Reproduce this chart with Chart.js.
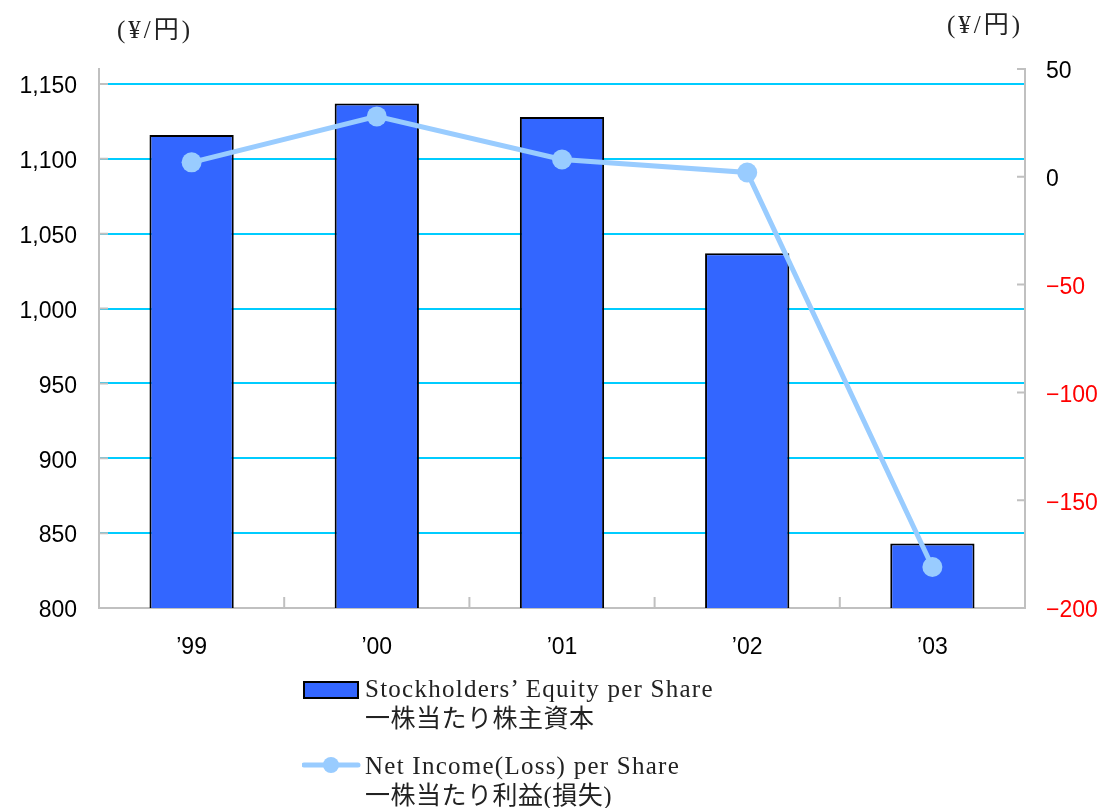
<!DOCTYPE html>
<html>
<head>
<meta charset="utf-8">
<script src="https://cdn.jsdelivr.net/npm/chart.js@4/dist/chart.umd.min.js"></script>
<style>
  body { margin: 0; background: #fff; }
  #wrap { position: relative; width: 1104px; height: 808px; }
  .unit { position: absolute; font-family: "Liberation Serif", "Noto Sans CJK JP", serif; font-size: 25px; letter-spacing: 3px; color: #222; }
  .legend { position: absolute; left: 302px; font-family: "Liberation Serif", "Noto Sans CJK JP", serif; font-size: 25px; line-height: 30px; color: #222; }
  .legend .txt { position: absolute; left: 63px; top: 0; white-space: nowrap; }
  .legend .en { letter-spacing: 1.25px; }
  .legend .jp { letter-spacing: 0.5px; }
</style>
</head>
<body>
<div id="wrap">
  <canvas id="myChart" width="1104" height="808"></canvas>
  <div class="unit" style="left:117px; top:9px;">(¥/円)</div>
  <div class="unit" style="left:947px; top:4px;">(¥/円)</div>
  <div class="legend" style="top:674px;">
    <canvas id="sw1" width="60" height="30" style="position:absolute;left:0;top:3px;"></canvas>
    <div class="txt"><span class="en">Stockholders’ Equity per Share</span><br><span class="jp">一株当たり株主資本</span></div>
  </div>
  <div class="legend" style="top:751px;">
    <canvas id="sw2" width="60" height="30" style="position:absolute;left:0;top:-1px;"></canvas>
    <div class="txt"><span class="en">Net Income(Loss) per Share</span><br><span class="jp">一株当たり利益(損失)</span></div>
  </div>
</div>
<script>
// 데이터
const years = ["’99", "’00", "’01", "’02", "’03"];
const equityPerShare = [1116, 1137, 1128, 1037, 843];
const incomePerShare = [6.7, 28, 8, 2, -181];

const BAR_BLUE = "#3366ff";
const LINE_BLUE = "#99ccff";
const GRID_CYAN = "#00ccff";
const AXIS_GRAY = "#c0c0c0";

// 안쪽으로 그려지는 눈금 표시
const tickMarks = {
  id: "tickMarks",
  afterDatasetsDraw(chart) {
    const { ctx, chartArea, scales } = chart;
    ctx.save();
    ctx.strokeStyle = AXIS_GRAY;
    ctx.lineWidth = 2;
    ctx.beginPath();
    scales.y.ticks.forEach((t) => {
      const y = scales.y.getPixelForValue(t.value);
      ctx.moveTo(chartArea.left, y);
      ctx.lineTo(chartArea.left + 9, y);
    });
    scales.y1.ticks.forEach((t) => {
      const y = scales.y1.getPixelForValue(t.value);
      ctx.moveTo(chartArea.right - 8, y);
      ctx.lineTo(chartArea.right, y);
    });
    for (let i = 1; i < years.length; i++) {
      const x = (scales.x.getPixelForValue(i - 1) + scales.x.getPixelForValue(i)) / 2;
      ctx.moveTo(x, chartArea.bottom);
      ctx.lineTo(x, chartArea.bottom - 11);
    }
    ctx.stroke();
    ctx.restore();
  },
};

const tickFont = { family: "'Liberation Sans', Arial, sans-serif", size: 23 };

const ctx = document.getElementById("myChart").getContext("2d");
const myChart = new Chart(ctx, {
  type: "bar",
  data: {
    labels: years,
    datasets: [
      {
        type: "line",
        label: "Net Income(Loss) per Share",
        data: incomePerShare,
        yAxisID: "y1",
        borderColor: LINE_BLUE,
        backgroundColor: LINE_BLUE,
        borderWidth: 5,
        pointRadius: 10,
        pointBorderWidth: 0,
        pointBackgroundColor: LINE_BLUE,
        order: 0,
      },
      {
        type: "bar",
        label: "Stockholders’ Equity per Share",
        data: equityPerShare,
        yAxisID: "y",
        backgroundColor: BAR_BLUE,
        borderColor: "#000",
        borderWidth: 2,
        barPercentage: 0.455,
        categoryPercentage: 1,
        order: 1,
      },
    ],
  },
  options: {
    responsive: false,
    animation: false,
    locale: "en-US",
    layout: { padding: { top: 69, left: 0, right: 0, bottom: 0 } },
    plugins: {
      legend: { display: false },
      tooltip: { enabled: false },
    },
    scales: {
      x: {
        grid: { display: false, drawTicks: false },
        border: { color: AXIS_GRAY, width: 2 },
        ticks: { font: tickFont, color: "#000", padding: 26 },
        afterFit(scale) { scale.height = 200; },
      },
      y: {
        position: "left",
        min: 800,
        max: 1160,
        border: { color: AXIS_GRAY, width: 2 },
        grid: {
          drawTicks: false,
          color: (c) => (c.tick && c.tick.value === 800 ? "rgba(0,0,0,0)" : GRID_CYAN),
          lineWidth: 2,
        },
        ticks: { stepSize: 50, includeBounds: false, font: tickFont, color: "#000", padding: 22, labelOffset: 3 },
        afterFit(scale) { scale.width = 99; },
      },
      y1: {
        position: "right",
        min: -200,
        max: 50,
        border: { color: AXIS_GRAY, width: 2 },
        grid: { drawOnChartArea: false, drawTicks: false },
        ticks: {
          stepSize: 50,
          font: tickFont,
          padding: 21,
          labelOffset: 3,
          color: (c) => (c.tick.value < 0 ? "#ff0000" : "#000"),
          callback: (v) => String(v).replace("-", "\u2212"),
        },
        afterFit(scale) { scale.width = 79; },
      },
    },
  },
  plugins: [tickMarks],
});

// 범례 견본
const s1 = document.getElementById("sw1").getContext("2d");
s1.fillStyle = BAR_BLUE;
s1.fillRect(2, 5, 54, 16);
s1.strokeStyle = "#000";
s1.lineWidth = 2;
s1.strokeRect(2, 5, 54, 16);

const s2 = document.getElementById("sw2").getContext("2d");
s2.strokeStyle = LINE_BLUE;
s2.lineWidth = 5;
s2.lineCap = "round";
s2.beginPath();
s2.moveTo(2, 15);
s2.lineTo(56, 15);
s2.stroke();
s2.fillStyle = LINE_BLUE;
s2.beginPath();
s2.arc(29, 15, 8, 0, Math.PI * 2);
s2.fill();
</script>
</body>
</html>
